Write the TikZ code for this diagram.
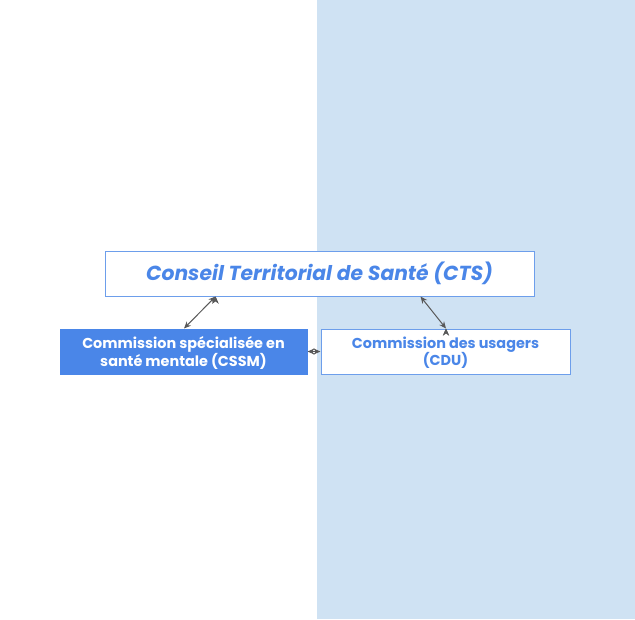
\documentclass[tikz,border=0pt]{standalone}
\usepackage{fontspec}
\setmainfont{Poppins}
\usetikzlibrary{arrows.meta}
\definecolor{cblue}{HTML}{4A86E8}
\definecolor{bline}{HTML}{6D9EEB}
\definecolor{bgblue}{HTML}{CFE2F3}
\definecolor{agray}{HTML}{595959}
\newcommand{\dropline}[2]{\raisebox{-#1}[\height][\depth]{\begin{tabular}{@{}c@{}}#2\end{tabular}}}
\tikzset{
  box/.style={draw=bline, line width=1pt, minimum height=45pt, inner sep=0pt, align=center},
  conn/.style={agray, line width=1pt, {Stealth[length=7pt,width=6pt]}-{Stealth[length=7pt,width=6pt]}}
}
\begin{document}
\begin{tikzpicture}[x=1pt,y=-1pt]
\useasboundingbox (0,0) rectangle (635,619);
\fill[white] (0,0) rectangle (317,619);
\fill[bgblue] (317,0) rectangle (635,619);
\node[box, fill=white, minimum width=429pt, text=cblue, font=\fontsize{20.3}{24}\selectfont\bfseries\itshape] (cts) at (319.5,273.5) {\dropline{1pt}{Conseil Territorial de Santé (CTS)}};
\node[box, fill=cblue, draw=cblue, minimum width=247pt, text=white, font=\fontsize{14.4}{17}\selectfont\bfseries] (cssm) at (183.5,351.5) {\renewcommand{\arraystretch}{0.92}\dropline{2pt}{Commission spécialisée en\\santé mentale (CSSM)}};
\node[box, fill=white, minimum width=249pt, text=cblue, font=\fontsize{14.4}{17}\selectfont\bfseries] (cdu) at (445.5,351.5) {\renewcommand{\arraystretch}{0.92}\dropline{2pt}{Commission des usagers\\(CDU)}};
\draw[conn] (cssm.north) ++(0.5,0) coordinate (a1) (cts.south) ++(-104,0) coordinate (a2);
\draw[conn] (a1) -- (a2);
\draw[conn] (cts.south) ++(101,0) coordinate (b1) (cdu.north) ++(0.5,0) coordinate (b2);
\draw[conn] (b1) -- (b2);
\draw[conn] (cssm.east) -- (cdu.west);
\end{tikzpicture}
\end{document}
